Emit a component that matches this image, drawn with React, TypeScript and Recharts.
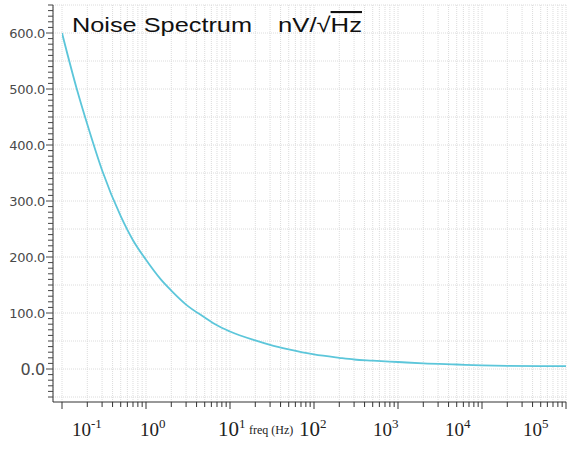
import React from 'react';
import { LineChart, Line, XAxis, YAxis, CartesianGrid } from 'recharts';

// Noise density (nV/sqrt(Hz)) at each frequency (Hz)
const FREQ = [
  0.1, 0.15, 0.2, 0.3, 0.5, 0.7, 1, 1.5, 2, 3, 5, 7, 10, 20, 30, 50, 100, 200, 300, 500, 1000,
  2000, 5000, 10000, 20000, 50000, 100000,
];
const NOISE = [
  600, 500, 437, 355, 273, 230, 195, 160, 140, 115, 92, 78, 67, 51, 43, 35, 26, 20, 17, 15, 12.5,
  10, 8, 6.5, 5.5, 5, 5,
];

const DECADES = [-1, 0, 1, 2, 3, 4];
const MULTS = [1, 2, 3, 4, 5, 6, 7, 8, 9];
const X_TICKS = [...DECADES.flatMap(d => MULTS.map(m => m * Math.pow(10, d))), 100000];
const Y_MAJOR = [0, 100, 200, 300, 400, 500, 600];
const Y_TICKS = Array.from({ length: 71 }, (_, i) => -50 + i * 10);
const Y_GRID = Array.from({ length: 15 }, (_, i) => -50 + i * 50);

const data = FREQ.map((f, i) => ({ f, v: NOISE[i] }));

// labels in the original drift left of their ticks
const LABEL_SHIFT: Record<number, number> = { '-1': 10, 0: -6, 1: -12, 2: -15, 3: -25, 4: -37, 5: -43 };
const LABEL_SIZE: Record<number, number> = { '-1': 19, 0: 19, 1: 21, 2: 21, 3: 19, 4: 19, 5: 19 };

const XTick = (props: any) => {
  const { x, y, payload } = props;
  const lg = Math.log10(payload.value);
  const exp = Math.round(lg);
  const major = Math.abs(lg - exp) < 1e-6;
  return (
    <g>
      <line x1={x} x2={x} y1={y} y2={y + (major ? 7 : 5)} stroke="#333" />
      {major && (
        <text
          x={x + LABEL_SHIFT[exp]}
          y={y + 34}
          fontFamily="'Liberation Serif', 'DejaVu Serif', serif"
          fontSize={LABEL_SIZE[exp]}
          fill="#222"
        >
          10
          <tspan dy={-8} fontSize={13}>{exp}</tspan>
        </text>
      )}
      {exp === 1 && major && (
        <text x={x + 19} y={y + 32} fontFamily="'Liberation Serif', serif" fontSize={12} fill="#222">
          freq (Hz)
        </text>
      )}
    </g>
  );
};

const YTick = (props: any) => {
  const { x, y, payload } = props;
  const major = Y_MAJOR.includes(payload.value);
  return (
    <g>
      <line x1={x - (major ? 7 : 5)} x2={x} y1={y} y2={y} stroke="#444" />
      {major && (
        <text
          x={x - 8}
          y={y}
          textAnchor="end"
          dominantBaseline="central"
          fontFamily="'DejaVu Sans', sans-serif"
          fontSize={payload.value === 0 ? 16 : 13}
          fill="#4a4a4a"
          letterSpacing={-0.3}
        >
          {payload.value.toFixed(1)}
        </text>
      )}
    </g>
  );
};

export default function App() {
  return (
    <div style={{ position: 'absolute', left: 0, top: 0, width: 567, height: 450, background: '#fff' }}>
      <LineChart width={567} height={450} data={data} margin={{ top: 5, right: 1, left: 0, bottom: 0 }}>
        <CartesianGrid
          stroke="#dcdcdc"
          strokeDasharray="1 1"
          horizontalValues={Y_GRID}
        />
        <XAxis
          dataKey="f"
          type="number"
          scale="log"
          domain={[0.1, 100000]}
          allowDataOverflow
          ticks={X_TICKS}
          interval={0}
          padding={{ left: 9, right: 0 }}
          height={48}
          tickSize={0}
          tickMargin={0}
          tickLine={false}
          axisLine={{ stroke: '#333' }}
          tick={<XTick />}
        />
        <YAxis
          type="number"
          domain={[-50, 650]}
          allowDataOverflow
          ticks={Y_TICKS}
          interval={0}
          padding={{ top: 0, bottom: 5 }}
          width={53}
          tickSize={0}
          tickMargin={0}
          tickLine={false}
          axisLine={{ stroke: '#333' }}
          tick={<YTick />}
        />
        <Line
          type="monotone"
          dataKey="v"
          stroke="#5cc6da"
          strokeWidth={1.8}
          dot={false}
          isAnimationActive={false}
        />
      </LineChart>
      <svg width={567} height={450} style={{ position: 'absolute', left: 0, top: 0, pointerEvents: 'none' }}>
        <text
          x={72}
          y={32}
          fontFamily="'Liberation Sans', Arial, sans-serif"
          fontSize={21}
          fill="#111"
          textLength={180}
          lengthAdjust="spacingAndGlyphs"
        >
          Noise Spectrum
        </text>
        <text
          x={278}
          y={32}
          fontFamily="'Liberation Sans', Arial, sans-serif"
          fontSize={21}
          fill="#111"
          textLength={84}
          lengthAdjust="spacingAndGlyphs"
        >
          nV/√<tspan style={{ textDecoration: 'overline' }}>Hz</tspan>
        </text>
      </svg>
    </div>
  );
}
